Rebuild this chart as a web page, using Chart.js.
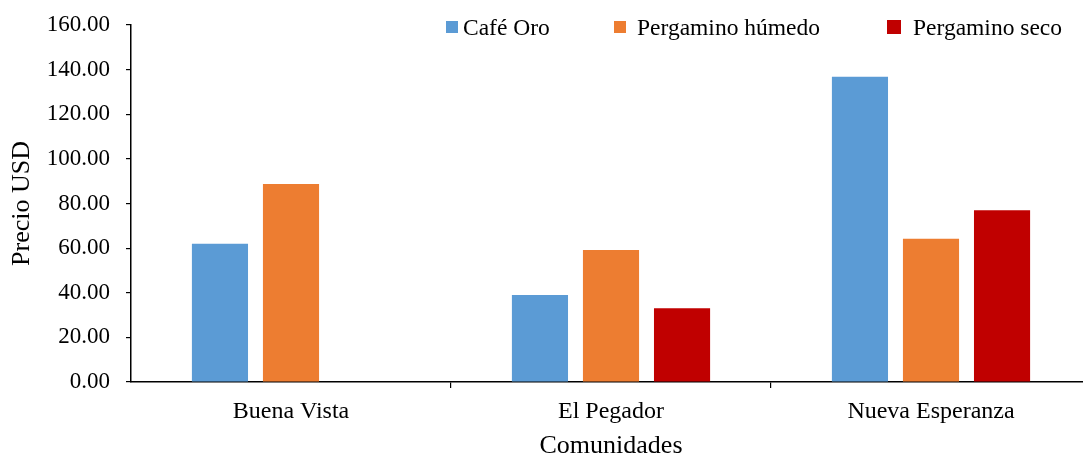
<!DOCTYPE html>
<html>
<head>
<meta charset="utf-8">
<script src="https://cdn.jsdelivr.net/npm/chart.js@4.4.1/dist/chart.umd.min.js"></script>
<style>
  html, body { margin: 0; padding: 0; background: #fff; overflow: hidden; }
  #wrap { position: relative; width: 1100px; height: 459px; }
  .leg { position: absolute; font-family: 'Liberation Serif', 'Times New Roman', serif; font-size: 23.5px; line-height: 24px; color: #000; white-space: nowrap; }
  .box { position: absolute; }
</style>
</head>
<body>
<div id="wrap">
  <canvas id="barChart" width="1100" height="459"></canvas>
  <div id="legend"></div>
</div>
<script>
// data
const comunidades = ['Buena Vista', 'El Pegador', 'Nueva Esperanza'];
const seriesNames = ['Café Oro', 'Pergamino húmedo', 'Pergamino seco'];
const cafeOro = [62.0, 39.0, 136.8];
const pergaminoHumedo = [88.7, 59.2, 64.2];
const pergaminoSeco = [null, 33.0, 77.0];
const seriesColors = ['#5B9BD5', '#ED7D31', '#C00000'];

const serif = "'Liberation Serif', 'Times New Roman', serif";

// legend sits inside the plot, top right (like the Excel original)
const legendItems = [
  { box: [446, 21, 12], text: [463, 15] },
  { box: [614, 21, 12], text: [637, 15] },
  { box: [887, 20, 14], text: [913, 15] }
];
const legendEl = document.getElementById('legend');
legendItems.forEach((it, i) => {
  const b = document.createElement('div');
  b.className = 'box';
  b.style.left = it.box[0] + 'px';
  b.style.top = it.box[1] + 'px';
  b.style.width = it.box[2] + 'px';
  b.style.height = it.box[2] + 'px';
  b.style.background = seriesColors[i];
  legendEl.appendChild(b);
  const t = document.createElement('div');
  t.className = 'leg';
  t.style.left = it.text[0] + 'px';
  t.style.top = it.text[1] + 'px';
  t.textContent = seriesNames[i];
  legendEl.appendChild(t);
});

const ctx = document.getElementById('barChart').getContext('2d');
new Chart(ctx, {
  type: 'bar',
  data: {
    labels: comunidades,
    datasets: [cafeOro, pergaminoHumedo, pergaminoSeco].map((d, i) => ({
      label: seriesNames[i],
      data: d,
      backgroundColor: seriesColors[i],
      borderWidth: 0,
      categoryPercentage: 0.666,
      barPercentage: 0.79
    }))
  },
  options: {
    responsive: false,
    animation: false,
    layout: { padding: { top: 25, right: 9, left: 0, bottom: 0 } },
    plugins: {
      legend: { display: false },
      tooltip: { enabled: false }
    },
    scales: {
      x: {
        afterFit: (s) => { s.height = 77; },
        border: { color: '#000', width: 1.5 },
        grid: {
          offset: true,
          drawOnChartArea: false,
          drawTicks: true,
          tickLength: 6,
          color: (c) => (c.index === 0 ? 'rgba(0,0,0,0)' : '#000'),
          lineWidth: 1.2
        },
        ticks: { color: '#000', font: { family: serif, size: 24 }, padding: 9 },
        title: { display: true, text: 'Comunidades', color: '#000', font: { family: serif, size: 26, lineHeight: 1 }, padding: { top: 0, bottom: 0 } }
      },
      y: {
        min: 0,
        max: 160,
        afterFit: (s) => { s.width = 131; s.paddingTop = 0; s.paddingBottom = 0; },
        border: { color: '#000', width: 1.5 },
        grid: { drawOnChartArea: false, drawTicks: true, tickLength: 5, color: '#000', lineWidth: 1.2 },
        ticks: {
          stepSize: 20,
          color: '#000',
          padding: 16,
          font: { family: serif, size: 23 },
          callback: (v) => v.toFixed(2)
        },
        title: { display: true, text: 'Precio USD', color: '#000', font: { family: serif, size: 26, lineHeight: 1 }, padding: { top: 9, bottom: 0 } }
      }
    }
  }
});
</script>
</body>
</html>
